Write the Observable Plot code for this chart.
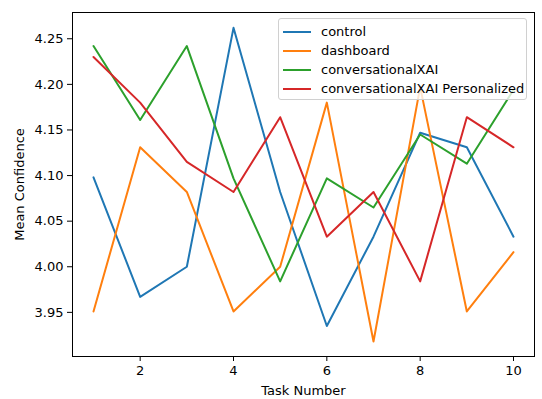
<!DOCTYPE html>
<html>
<head>
<meta charset="utf-8">
<script src="https://cdn.jsdelivr.net/npm/d3@7"></script>
<script src="https://cdn.jsdelivr.net/npm/@observablehq/plot@0.6"></script>
<style>
  html, body { margin: 0; padding: 0; background: #fff; }
  #wrap { position: relative; width: 542px; height: 399px; font-family: "DejaVu Sans", sans-serif; }
  #legend { position: absolute; left: 278px; top: 18px; width: 249px; height: 82px;
    border: 1px solid #d0d0d0; border-radius: 3px; background: rgba(255,255,255,0.8);
    font-size: 13px; color: #000; box-sizing: border-box; padding-top: 3px; white-space: nowrap; }
  .item { display: flex; align-items: center; height: 19px; white-space: nowrap; }
  .sw { width: 28px; height: 2px; margin-left: 4px; margin-right: 10px; flex: none; }
</style>
</head>
<body>
<div id="wrap"></div>
<script>
const tasks = [1, 2, 3, 4, 5, 6, 7, 8, 9, 10];
const seriesNames = ["control", "dashboard", "conversationalXAI", "conversationalXAI Personalized"];
const colors = ["#1f77b4", "#ff7f0e", "#2ca02c", "#d62728"];
const control = [4.098, 3.967, 4.000, 4.262, 4.082, 3.935, 4.033, 4.147, 4.131, 4.033];
const dashboard = [3.951, 4.131, 4.082, 3.951, 4.000, 4.180, 3.918, 4.197, 3.951, 4.016];
const conversationalXAI = [4.242, 4.161, 4.242, 4.097, 3.984, 4.097, 4.065, 4.145, 4.113, 4.194];
const personalized = [4.230, 4.180, 4.115, 4.082, 4.164, 4.033, 4.082, 3.984, 4.164, 4.131];
const yTicks = [3.95, 4.00, 4.05, 4.10, 4.15, 4.20, 4.25];
const xTicks = [2, 4, 6, 8, 10];

const allSeries = [control, dashboard, conversationalXAI, personalized];
const rows = [];
allSeries.forEach((vals, i) => vals.forEach((v, j) => rows.push({task: tasks[j], value: v, series: seriesNames[i]})));

const chart = Plot.plot({
  width: 542,
  height: 399,
  marginLeft: 72,
  marginRight: 8,
  marginTop: 12,
  marginBottom: 43,
  style: {fontFamily: "DejaVu Sans, sans-serif", fontSize: "13px", color: "#000", background: "#fff"},
  x: {domain: [0.55, 10.45], ticks: xTicks, tickFormat: d => String(d), tickSize: 5, tickPadding: 4,
      label: "Task Number", labelAnchor: "center", labelArrow: "none", labelOffset: 38},
  y: {domain: [3.9016, 4.2788], ticks: yTicks, tickFormat: d3.format(".2f"), tickSize: 5, tickPadding: 4,
      label: "Mean Confidence", labelAnchor: "center", labelArrow: "none", labelOffset: 58},
  color: {domain: seriesNames, range: colors},
  marks: [
    Plot.lineY(rows, {x: "task", y: "value", stroke: "series", strokeWidth: 2}),
    Plot.frame({stroke: "#000", strokeWidth: 1})
  ]
});
const wrap = document.getElementById("wrap");
wrap.appendChild(chart);

const legend = document.createElement("div");
legend.id = "legend";
seriesNames.forEach((name, i) => {
  const it = document.createElement("div");
  it.className = "item";
  const sw = document.createElement("div");
  sw.className = "sw";
  sw.style.background = colors[i];
  const t = document.createElement("span");
  t.textContent = name;
  it.appendChild(sw); it.appendChild(t);
  legend.appendChild(it);
});
wrap.appendChild(legend);
</script>
</body>
</html>
